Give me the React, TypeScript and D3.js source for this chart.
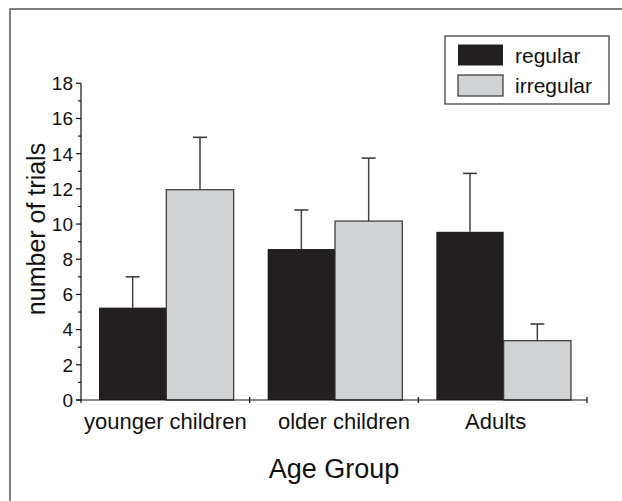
import React from "react";
import * as d3 from "d3";

const categories = ["younger children", "older children", "Adults"];
const seriesNames = ["regular", "irregular"];
const regularValues = [5.25, 8.58, 9.56];
const regularErrors = [1.75, 2.22, 3.32];
const irregularValues = [11.95, 10.17, 3.37];
const irregularErrors = [2.98, 3.58, 0.95];
const yTicks = [0, 2, 4, 6, 8, 10, 12, 14, 16, 18];

const W = 622;
const H = 501;
const FONT = "'Liberation Sans', Arial, Helvetica, sans-serif";
const colors = ["#231f20", "#d1d2d4"];

export default function App() {
  const x0 = 81;
  const x1 = 587;
  const yTop = 83.3;
  const yBot = 400;
  const y = d3.scaleLinear().domain([0, 18]).range([yBot, yTop]);
  const xBand = d3.scaleBand().domain(categories).range([x0, x1]).paddingInner(0).paddingOuter(0);
  const groupW = xBand.bandwidth();
  const inner = d3.scaleBand().domain(seriesNames).range([18, groupW - 16]).padding(0);
  const barW = inner.bandwidth();
  const series = [
    { name: "regular", values: regularValues, errors: regularErrors },
    { name: "irregular", values: irregularValues, errors: irregularErrors },
  ];
  const minorTicks = d3.range(1, 18, 2);
  const labelDx = [0, 10, -7];

  return (
    <svg width={W} height={H} style={{ position: "absolute", left: 0, top: 0 }} fontFamily={FONT}>
      <rect x={0} y={0} width={W} height={H} fill="#fff" />
      <rect x={10} y={9} width={W + 20} height={H + 20} fill="none" stroke="#555" strokeWidth={1.5} />

      {/* bars */}
      {series.map((s, si) =>
        categories.map((c, ci) => {
          const bx = (xBand(c) as number) + (inner(s.name) as number);
          const v = s.values[ci];
          const e = s.errors[ci];
          const cx = bx + barW / 2;
          return (
            <g key={s.name + c}>
              <line x1={cx} x2={cx} y1={y(v)} y2={y(v + e)} stroke="#444" strokeWidth={1.5} />
              <line x1={cx - 7} x2={cx + 7} y1={y(v + e)} y2={y(v + e)} stroke="#333" strokeWidth={1.5} />
              <rect
                x={bx}
                y={y(v)}
                width={barW}
                height={yBot - y(v)}
                fill={colors[si]}
                stroke={si === 0 ? "#231f20" : "#333"}
                strokeWidth={si === 0 ? 0 : 1.2}
              />
            </g>
          );
        })
      )}

      {/* y axis */}
      <line x1={x0} x2={x0} y1={yTop} y2={yBot + 3} stroke="#111" strokeWidth={1.2} />
      {yTicks.map((t) => (
        <g key={"yt" + t}>
          <line x1={x0 - 5} x2={x0} y1={y(t)} y2={y(t)} stroke="#111" strokeWidth={1.2} />
          <text x={x0 - 8} y={y(t)} dy="0.36em" textAnchor="end" fontSize={19} fill="#111">
            {t}
          </text>
        </g>
      ))}
      {minorTicks.map((t) => (
        <line key={"ym" + t} x1={x0 - 3} x2={x0} y1={y(t)} y2={y(t)} stroke="#111" strokeWidth={1.2} />
      ))}

      {/* x axis */}
      <line x1={x0 - 5} x2={x1} y1={yBot} y2={yBot} stroke="#111" strokeWidth={1.2} />
      {categories.map((c) => {
        const tx = (xBand(c) as number) + groupW;
        return <line key={"xt" + c} x1={tx} x2={tx} y1={yBot - 3} y2={yBot + 3} stroke="#111" strokeWidth={1.2} />;
      })}
      {categories.map((c, i) => (
        <text
          key={"xl" + c}
          x={(xBand(c) as number) + groupW / 2 + labelDx[i]}
          y={429}
          textAnchor="middle"
          fontSize={22}
          fill="#111"
        >
          {c}
        </text>
      ))}

      {/* axis titles */}
      <text x={334} y={478} textAnchor="middle" fontSize={27} fill="#111">
        Age Group
      </text>
      <text
        transform={`translate(45, ${229}) rotate(-90)`}
        textAnchor="middle"
        fontSize={25}
        fill="#111"
      >
        number of trials
      </text>

      {/* legend */}
      <rect x={445} y={36} width={164} height={68} fill="#fff" stroke="#333" strokeWidth={1.2} />
      {seriesNames.map((n, i) => (
        <g key={"lg" + n}>
          <rect
            x={458}
            y={44.5 + i * 30.5}
            width={45}
            height={21}
            fill={colors[i]}
            stroke="#333"
            strokeWidth={i === 0 ? 0 : 1.2}
          />
          <text x={515} y={55 + i * 30.5} dy="0.36em" fontSize={21} fill="#111">
            {n}
          </text>
        </g>
      ))}
    </svg>
  );
}
